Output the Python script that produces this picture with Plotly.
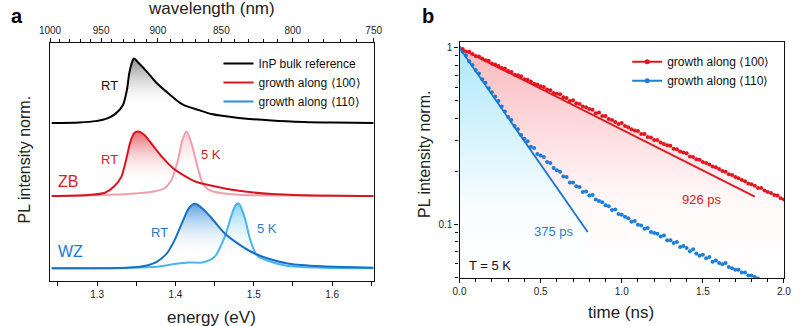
import plotly.graph_objects as go

# ---------------- Panel a: PL spectra ----------------
bulk_rt_E = [1.242, 1.277, 1.298, 1.314, 1.324, 1.333, 1.338, 1.341, 1.344, 1.347, 1.353, 1.364,
             1.376, 1.393, 1.409, 1.430, 1.446, 1.481, 1.523, 1.564, 1.600, 1.653]
bulk_rt_I = [0.0, 0.01, 0.03, 0.077, 0.15, 0.28, 0.51, 0.77, 0.92, 1.0, 0.93, 0.79,
             0.62, 0.44, 0.29, 0.20, 0.14, 0.08, 0.04, 0.017, 0.007, 0.0]

zb_rt_E = [1.242, 1.289, 1.310, 1.322, 1.331, 1.337, 1.342, 1.347, 1.352, 1.360, 1.372, 1.384,
           1.397, 1.409, 1.426, 1.442, 1.481, 1.523, 1.564, 1.653]
zb_rt_I = [0.0, 0.016, 0.05, 0.15, 0.30, 0.56, 0.82, 0.97, 1.0, 0.95, 0.77, 0.59,
           0.43, 0.33, 0.22, 0.17, 0.08, 0.03, 0.012, 0.0]

zb_5k_E = [1.242, 1.316, 1.349, 1.372, 1.386, 1.395, 1.401, 1.405, 1.409, 1.414, 1.419, 1.423,
           1.428, 1.434, 1.440, 1.448, 1.481, 1.564, 1.653]
zb_5k_I = [0.0, 0.02, 0.04, 0.07, 0.12, 0.25, 0.46, 0.65, 0.87, 1.0, 0.87, 0.70,
           0.46, 0.22, 0.12, 0.07, 0.02, 0.005, 0.0]

wz_rt_E = [1.242, 1.339, 1.360, 1.376, 1.389, 1.399, 1.409, 1.417, 1.425, 1.434, 1.446, 1.463,
           1.479, 1.496, 1.516, 1.545, 1.587, 1.653]
wz_rt_I = [0.0, 0.01, 0.035, 0.10, 0.23, 0.44, 0.72, 0.93, 1.0, 0.93, 0.78, 0.54,
           0.39, 0.26, 0.16, 0.07, 0.03, 0.01]

wz_5k_E = [1.242, 1.376, 1.401, 1.417, 1.434, 1.450, 1.463, 1.471, 1.477, 1.481, 1.488, 1.496,
           1.504, 1.517, 1.542, 1.587, 1.653]
wz_5k_I = [0.0, 0.025, 0.07, 0.09, 0.09, 0.18, 0.49, 0.80, 0.98, 1.0, 0.80, 0.42,
           0.20, 0.12, 0.04, 0.01, 0.0]

offset_bulk = 2.25
offset_zb = 1.12
offset_wz = 0.0

energy_ticks = [1.3, 1.4, 1.5, 1.6]
energy_minor = [1.25, 1.35, 1.45, 1.55, 1.65]
wavelength_ticks = [1000, 950, 900, 850, 800, 750]
wavelength_minor = list(range(1000, 749, -10))
HC = 1239.84  # eV nm

# ---------------- Panel b: PL decay ----------------
time_100 = [round(0.02 * k, 2) for k in range(101)]
decay_100 = [1.000, 0.985, 0.955, 0.950, 0.925, 0.900, 0.895, 0.870, 0.850, 0.845,
             0.815, 0.805, 0.790, 0.770, 0.765, 0.740, 0.730, 0.705, 0.700, 0.690,
             0.665, 0.660, 0.645, 0.625, 0.620, 0.605, 0.600, 0.580, 0.575, 0.555,
             0.550, 0.545, 0.525, 0.520, 0.500, 0.505, 0.485, 0.480, 0.465, 0.460,
             0.450, 0.445, 0.425, 0.430, 0.410, 0.410, 0.395, 0.390, 0.380, 0.370,
             0.375, 0.360, 0.355, 0.345, 0.340, 0.338, 0.325, 0.325, 0.312, 0.310,
             0.300, 0.300, 0.290, 0.285, 0.280, 0.278, 0.268, 0.266, 0.258, 0.255,
             0.252, 0.242, 0.240, 0.233, 0.232, 0.225, 0.222, 0.218, 0.212, 0.210,
             0.205, 0.200, 0.198, 0.192, 0.190, 0.185, 0.182, 0.178, 0.175, 0.170,
             0.168, 0.165, 0.160, 0.160, 0.155, 0.152, 0.150, 0.146, 0.145, 0.140,
             0.138]
time_110 = [round(0.02 * k, 2) for k in range(93)]
decay_110 = [1.000, 0.950, 0.905, 0.840, 0.800, 0.750, 0.715, 0.665, 0.635, 0.590,
             0.560, 0.530, 0.500, 0.465, 0.435, 0.405, 0.390, 0.360, 0.345, 0.320,
             0.305, 0.295, 0.275, 0.270, 0.250, 0.245, 0.240, 0.225, 0.222, 0.208,
             0.202, 0.198, 0.186, 0.185, 0.172, 0.172, 0.164, 0.162, 0.152, 0.153,
             0.145, 0.146, 0.138, 0.135, 0.133, 0.128, 0.126, 0.120, 0.121, 0.114,
             0.113, 0.110, 0.108, 0.103, 0.104, 0.099, 0.098, 0.094, 0.095, 0.090,
             0.089, 0.088, 0.085, 0.086, 0.081, 0.081, 0.078, 0.079, 0.074, 0.075,
             0.073, 0.070, 0.072, 0.068, 0.066, 0.067, 0.064, 0.065, 0.061, 0.062,
             0.060, 0.059, 0.060, 0.057, 0.056, 0.055, 0.055, 0.053, 0.053, 0.051,
             0.051, 0.050, 0.049]
fit_100_t = [0.0, 1.82]
fit_100_I = [1.0, 0.143]
fit_110_t = [0.0, 0.79]
fit_110_I = [1.0, 0.09]

YB_MIN, YB_MAX = 0.0493, 1.08

FONT = "Liberation Sans, Arial, sans-serif"
RED = "rgb(226,22,30)"
BLUE = "rgb(28,126,214)"

fig = go.Figure()

def spectrum(E, I, off, grad_top, grad_mid=0.3):
    y = [v + off for v in I]
    fig.add_trace(go.Scatter(x=[E[0], E[-1]], y=[off, off], mode="lines",
                             line=dict(width=0), showlegend=False, hoverinfo="skip",
                             xaxis="x", yaxis="y"))
    fig.add_trace(go.Scatter(x=E, y=y, mode="lines", line=dict(width=0, shape="spline", smoothing=0.8),
                             fill="tonexty",
                             fillgradient=dict(type="vertical",
                                               colorscale=[[0, "rgba(255,255,255,0)"],
                                                           [grad_mid, "rgba(255,255,255,0)"],
                                                           [1, grad_top]]),
                             showlegend=False, hoverinfo="skip", xaxis="x", yaxis="y"))

def spec_line(E, I, off, color, width=2.0):
    fig.add_trace(go.Scatter(x=E, y=[v + off for v in I], mode="lines",
                             line=dict(color=color, width=width, shape="spline", smoothing=0.8),
                             showlegend=False, hoverinfo="skip", xaxis="x", yaxis="y"))

spectrum(bulk_rt_E, bulk_rt_I, offset_bulk, "rgb(140,140,140)", 0.2)
spectrum(zb_rt_E, zb_rt_I, offset_zb, "rgb(236,100,110)", 0.2)
spectrum(zb_5k_E, zb_5k_I, offset_zb, "rgba(246,190,196,0.8)", 0.3)
spectrum(wz_rt_E, wz_rt_I, offset_wz, "rgb(90,160,225)", 0.2)
spectrum(wz_5k_E, wz_5k_I, offset_wz, "rgba(110,200,240,0.85)", 0.2)

spec_line(bulk_rt_E, bulk_rt_I, offset_bulk, "black")
spec_line(zb_5k_E, zb_5k_I, offset_zb, "rgb(240,160,170)")
spec_line(zb_rt_E, zb_rt_I, offset_zb, "rgb(214,22,32)")
spec_line(wz_5k_E, wz_5k_I, offset_wz, "rgb(70,182,236)")
spec_line(wz_rt_E, wz_rt_I, offset_wz, "rgb(22,112,200)")

for name, col in [("InP bulk reference", "black"),
                  ("growth along \u27e8100\u27e9", RED),
                  ("growth along \u27e8110\u27e9", "rgb(40,140,232)")]:
    fig.add_trace(go.Scatter(x=[None], y=[None], mode="lines", name=name,
                             line=dict(color=col, width=2), xaxis="x", yaxis="y",
                             legend="legend"))

fig.add_trace(go.Scatter(x=[HC / w for w in wavelength_ticks], y=[None] * len(wavelength_ticks),
                         mode="markers", marker=dict(opacity=0), showlegend=False,
                         hoverinfo="skip", xaxis="x2", yaxis="y"))

# ---------------- Panel b traces ----------------
fig.add_trace(go.Scatter(x=time_100 + [time_100[-1], time_100[0]],
                         y=decay_100 + [YB_MIN, YB_MIN], mode="lines", line=dict(width=0),
                         fill="toself",
                         fillgradient=dict(type="vertical",
                                           colorscale=[[0, "rgb(255,255,255)"], [0.35, "rgb(255,248,248)"],
                                                       [1, "rgb(250,185,190)"]]),
                         showlegend=False, hoverinfo="skip", xaxis="x3", yaxis="y3"))
fig.add_trace(go.Scatter(x=fit_110_t + [fit_110_t[-1], fit_110_t[0]],
                         y=fit_110_I + [YB_MIN, YB_MIN], mode="lines", line=dict(width=0),
                         fill="toself",
                         fillgradient=dict(type="vertical",
                                           colorscale=[[0, "rgb(255,255,255)"], [0.3, "rgb(248,253,255)"],
                                                       [1, "rgb(175,232,250)"]]),
                         showlegend=False, hoverinfo="skip", xaxis="x3", yaxis="y3"))

fig.add_trace(go.Scatter(x=time_100, y=decay_100, mode="markers",
                         marker=dict(color=RED, size=4), showlegend=False,
                         hoverinfo="skip", xaxis="x3", yaxis="y3"))
fig.add_trace(go.Scatter(x=time_110, y=decay_110, mode="markers",
                         marker=dict(color=BLUE, size=4), showlegend=False,
                         hoverinfo="skip", xaxis="x3", yaxis="y3"))
fig.add_trace(go.Scatter(x=fit_100_t, y=fit_100_I, mode="lines",
                         line=dict(color=RED, width=1.8), showlegend=False,
                         hoverinfo="skip", xaxis="x3", yaxis="y3"))
fig.add_trace(go.Scatter(x=fit_110_t, y=fit_110_I, mode="lines",
                         line=dict(color="rgb(24,118,206)", width=1.8), showlegend=False,
                         hoverinfo="skip", xaxis="x3", yaxis="y3"))

for name, col in [("growth along \u27e8100\u27e9", RED),
                  ("growth along \u27e8110\u27e9", BLUE)]:
    fig.add_trace(go.Scatter(x=[None], y=[None], mode="lines+markers", name=name,
                             line=dict(color=col, width=2), marker=dict(color=col, size=5),
                             xaxis="x3", yaxis="y3", legend="legend2"))

axis_common = dict(showgrid=False, zeroline=False, showline=True, linecolor="#111",
                   linewidth=1.3, tickcolor="#111", tickfont=dict(family=FONT, size=10, color="#222"))

fig.update_layout(
    width=800, height=326,
    margin=dict(l=0, r=0, t=0, b=0),
    paper_bgcolor="white", plot_bgcolor="white",
    font=dict(family=FONT, color="#222"),
    xaxis=dict(domain=[0.05, 0.465], range=[HC / 1000, HC / 750], anchor="y",
               tickmode="array", tickvals=energy_ticks, ticktext=[f"{v:.1f}" for v in energy_ticks],
               ticks="outside", ticklen=4, tickwidth=1, mirror=True,
               minor=dict(tickmode="array", tickvals=energy_minor, ticks="outside",
                          ticklen=4, tickwidth=1, tickcolor="#111"),
               **axis_common),
    xaxis2=dict(overlaying="x", side="top", anchor="y", range=[HC / 1000, HC / 750],
                tickmode="array", tickvals=[HC / w for w in wavelength_ticks],
                ticktext=[str(w) for w in wavelength_ticks],
                ticks="outside", ticklen=4, tickwidth=1,
                minor=dict(tickmode="array", tickvals=[HC / w for w in wavelength_minor],
                           ticks="outside", ticklen=3, tickwidth=1, tickcolor="#111"),
                showgrid=False, zeroline=False, showline=False, tickcolor="#111",
                tickfont=dict(family=FONT, size=10, color="#222")),
    yaxis=dict(domain=[0.138, 0.868], range=[-0.197, 3.49], anchor="x",
               showticklabels=False, ticks="", mirror=True,
               showgrid=False, zeroline=False, showline=True, linecolor="#111", linewidth=1.3),
    xaxis3=dict(domain=[0.575, 0.991], range=[0, 2], anchor="y3",
                tickmode="array", tickvals=[0, 0.5, 1.0, 1.5, 2.0],
                ticktext=["0.0", "0.5", "1.0", "1.5", "2.0"],
                ticks="outside", ticklen=4, tickwidth=1, mirror=True,
                minor=dict(dtick=0.1, ticks="outside", ticklen=3, tickwidth=1, tickcolor="#111"),
                **axis_common),
    yaxis3=dict(domain=[0.147, 0.871], type="log", range=[-1.307, 0.0334], anchor="x3",
                tickmode="array", tickvals=[0.1, 1], ticktext=["0.1", "1"],
                ticks="outside", ticklen=4, tickwidth=1, mirror=True,
                minor=dict(tickmode="array",
                           tickvals=[0.05, 0.06, 0.07, 0.08, 0.09, 0.2, 0.3, 0.4, 0.5, 0.6, 0.7, 0.8, 0.9],
                           ticks="outside", ticklen=3, tickwidth=1, tickcolor="#111"),
                **axis_common),
    legend=dict(x=0.266, y=0.85, xanchor="left", yanchor="top", bgcolor="rgba(0,0,0,0)",
                font=dict(family=FONT, size=12, color="#111"), itemwidth=30,
                traceorder="normal", tracegroupgap=0),
    legend2=dict(x=0.79, y=0.855, xanchor="left", yanchor="top", bgcolor="rgba(0,0,0,0)",
                 font=dict(family=FONT, size=12, color="#111"), itemwidth=30,
                 traceorder="normal"),
)

def ann(text, x, y, size=13, color="#222", xref="paper", yref="paper", angle=0, bold=False):
    fig.add_annotation(text=f"<b>{text}</b>" if bold else text, x=x, y=y, xref=xref, yref=yref,
                       showarrow=False, textangle=angle, xanchor="center", yanchor="middle",
                       font=dict(family=FONT, size=size, color=color))

ann("wavelength (nm)", 0.2575, 0.975, size=17)
ann("energy (eV)", 0.2575, 0.0276, size=17)
ann("time (ns)", 0.782, 0.04, size=17)
ann("PL intensity norm.", 0.0175, 0.51, size=16, angle=-90)
ann("PL intensity norm.", 0.531, 0.525, size=16, angle=-90)
ann("a", 0.008, 0.95, size=20, color="#000", bold=True)
ann("b", 0.534, 0.95, size=20, color="#000", bold=True)

ann("RT", 1.316, 2.83, 13, "#111", "x", "y")
ann("RT", 1.316, 1.68, 13, "rgb(214,30,40)", "x", "y")
ann("5 K", 1.446, 1.77, 13, "rgb(200,30,40)", "x", "y")
ann("ZB", 1.263, 1.35, 16, "rgb(214,30,40)", "x", "y")
ann("WZ", 1.2665, 0.26, 16, "rgb(28,120,210)", "x", "y")
ann("RT", 1.379, 0.56, 13, "rgb(40,120,190)", "x", "y")
ann("5 K", 1.517, 0.61, 13, "rgb(40,130,210)", "x", "y")

ann("T = 5 K", 0.19, -1.233, 13, "#111", "x3", "y3")
ann("926 ps", 1.495, -0.858, 13, RED, "x3", "y3")
ann("375 ps", 0.583, -1.04, 13, "rgb(40,130,210)", "x3", "y3")

POST = ("document.documentElement.style.margin='0';document.documentElement.style.overflow='hidden';"
        "document.body.style.margin='0';document.body.style.padding='0';document.body.style.overflow='hidden';"
        "var d=document.getElementById('{plot_id}');d.style.position='fixed';d.style.left='0px';d.style.top='0px';")

fig.write_html("out.html", config={"displayModeBar": False}, post_script=POST)
